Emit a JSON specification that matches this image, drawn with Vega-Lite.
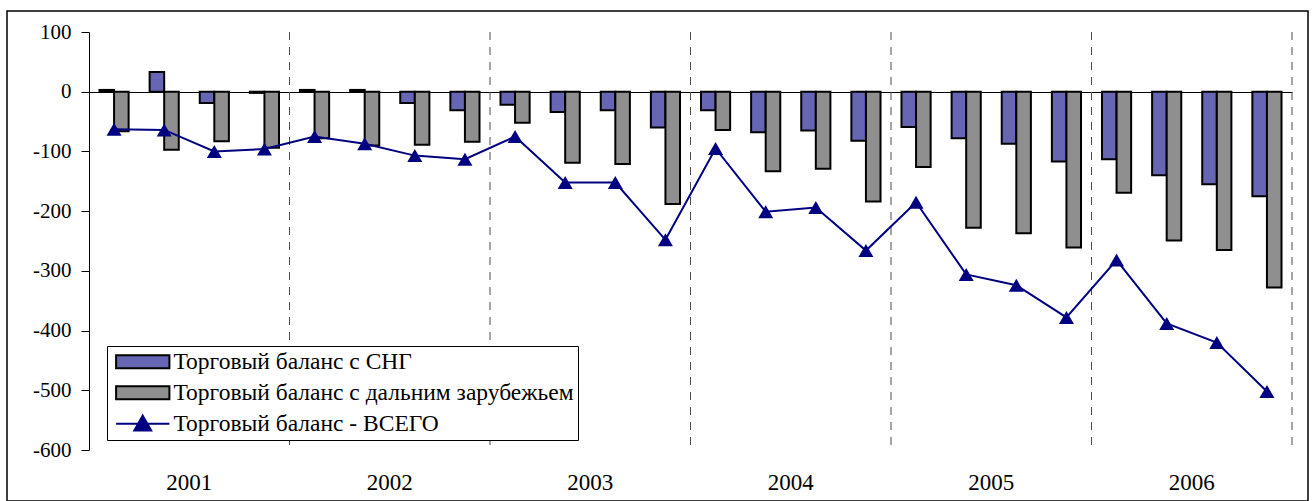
{
  "$schema": "https://vega.github.io/schema/vega-lite/v6.json",
  "autosize": "none",
  "padding": {"left": 7, "top": 11, "right": 5, "bottom": 0},
  "width": 1301,
  "height": 490,
  "background": "white",
  "config": {"view": {"stroke": "black", "strokeWidth": 1.5}, "font": "Liberation Serif"},
  "data": {"values": [
    {"q": "2001-1", "quarter": 1, "cis": 3, "far": -66, "total": -63},
    {"q": "2001-2", "quarter": 2, "cis": 33, "far": -97, "total": -64},
    {"q": "2001-3", "quarter": 3, "cis": -19, "far": -83, "total": -100},
    {"q": "2001-4", "quarter": 4, "cis": -2, "far": -94, "total": -96},
    {"q": "2002-1", "quarter": 1, "cis": 3, "far": -78, "total": -75},
    {"q": "2002-2", "quarter": 2, "cis": 3, "far": -90, "total": -87},
    {"q": "2002-3", "quarter": 3, "cis": -19, "far": -89, "total": -107},
    {"q": "2002-4", "quarter": 4, "cis": -31, "far": -84, "total": -113},
    {"q": "2003-1", "quarter": 1, "cis": -22, "far": -52, "total": -75},
    {"q": "2003-2", "quarter": 2, "cis": -34, "far": -119, "total": -152},
    {"q": "2003-3", "quarter": 3, "cis": -31, "far": -121, "total": -152},
    {"q": "2003-4", "quarter": 4, "cis": -60, "far": -188, "total": -248},
    {"q": "2004-1", "quarter": 1, "cis": -31, "far": -64, "total": -95},
    {"q": "2004-2", "quarter": 2, "cis": -68, "far": -133, "total": -201},
    {"q": "2004-3", "quarter": 3, "cis": -65, "far": -129, "total": -194},
    {"q": "2004-4", "quarter": 4, "cis": -82, "far": -184, "total": -266},
    {"q": "2005-1", "quarter": 1, "cis": -59, "far": -126, "total": -185},
    {"q": "2005-2", "quarter": 2, "cis": -78, "far": -228, "total": -306},
    {"q": "2005-3", "quarter": 3, "cis": -87, "far": -237, "total": -324},
    {"q": "2005-4", "quarter": 4, "cis": -117, "far": -261, "total": -378},
    {"q": "2006-1", "quarter": 1, "cis": -113, "far": -169, "total": -282},
    {"q": "2006-2", "quarter": 2, "cis": -140, "far": -249, "total": -388},
    {"q": "2006-3", "quarter": 3, "cis": -155, "far": -265, "total": -420},
    {"q": "2006-4", "quarter": 4, "cis": -175, "far": -328, "total": -502}
  ]},
  "encoding": {
    "x": {
      "field": "q", "type": "nominal",
      "scale": {"range": [82, 1285], "paddingInner": 0, "paddingOuter": 0},
      "axis": {
        "title": null, "domain": false, "ticks": false, "tickSize": 0, "labelPadding": 0,
        "offset": -30, "labelAngle": 0, "labelOffset": 25,
        "labelExpr": "substring(datum.value, 5) === '2' ? substring(datum.value, 0, 4) : ''",
        "labelFont": "Liberation Serif", "labelFontSize": 23, "labelColor": "black",
        "labelOverlap": false, "labelBound": false, "grid": false
      }
    }
  },
  "layer": [
    {
      "transform": [{"filter": "datum.quarter === 4"}],
      "mark": {"type": "rule", "strokeDash": [8, 7], "color": "#4d4d4d", "strokeWidth": 1},
      "encoding": {
        "x": {"field": "q", "type": "nominal", "bandPosition": 1},
        "y": {"datum": 100},
        "y2": {"datum": -600}
      }
    },
    {
      "transform": [{"fold": ["cis", "far"], "as": ["series", "value"]}],
      "mark": {"type": "bar", "stroke": "black", "strokeWidth": 2},
      "encoding": {
        "xOffset": {"field": "series", "type": "nominal", "scale": {"domain": ["cis", "far"], "paddingOuter": 0.72, "paddingInner": 0}},
        "y": {
          "field": "value", "type": "quantitative",
          "scale": {"domain": [-600, 100], "range": [439, 21], "nice": false, "zero": false},
          "axis": {
            "title": null, "values": [-600, -500, -400, -300, -200, -100, 0, 100],
            "offset": -82, "domainColor": "black", "domainWidth": 1, "tickColor": "black",
            "tickSize": 8, "labelPadding": 10, "labelFont": "Liberation Serif", "labelFontSize": 21,
            "labelColor": "black", "labelExpr": "datum.value + ''", "grid": true,
            "gridColor": {"condition": {"test": "datum.value === 0", "value": "black"}, "value": "transparent"},
            "gridWidth": 1, "labelOverlap": false
          }
        },
        "fill": {
          "field": "series", "type": "nominal",
          "scale": {"domain": ["cis", "far", "total"], "range": ["#6666B4", "#8F8F8F", "#000080"]},
          "legend": {
            "title": null, "orient": "none", "legendX": 100, "legendY": 335, "direction": "vertical",
            "fillColor": "white", "strokeColor": "black", "padding": 4, "rowPadding": 6,
            "labelFont": "Liberation Serif", "labelFontSize": 23.5, "labelColor": "black", "labelLimit": 700,
            "labelExpr": "datum.value === 'cis' ? 'Торговый баланс с СНГ' : datum.value === 'far' ? 'Торговый баланс с дальним зарубежьем' : 'Торговый баланс - ВСЕГО'",
            "symbolType": "M-4.1,-1H4.1V1H-4.1Z", "symbolSize": 169, "symbolStrokeWidth": 2,
            "symbolStrokeColor": "black", "symbolOffset": 20, "labelOffset": 19,
            "encode": {"symbols": {"update": {
              "shape": {"signal": "datum.value === 'total' ? 'M-4.1,0H4.1M0,-1.25L1.3,1.05H-1.3Z' : 'M-4.1,-1H4.1V1H-4.1Z'"},
              "stroke": {"signal": "datum.value === 'total' ? '#000080' : 'black'"}
            }}}
          }
        }
      }
    },
    {
      "mark": {"type": "line", "color": "#000080", "strokeWidth": 2},
      "encoding": {"y": {"field": "total", "type": "quantitative", "title": null}}
    },
    {
      "mark": {"type": "point", "shape": "triangle-up", "filled": true, "size": 225, "color": "#000080", "opacity": 1},
      "encoding": {"y": {"field": "total", "type": "quantitative", "title": null}}
    }
  ]
}
